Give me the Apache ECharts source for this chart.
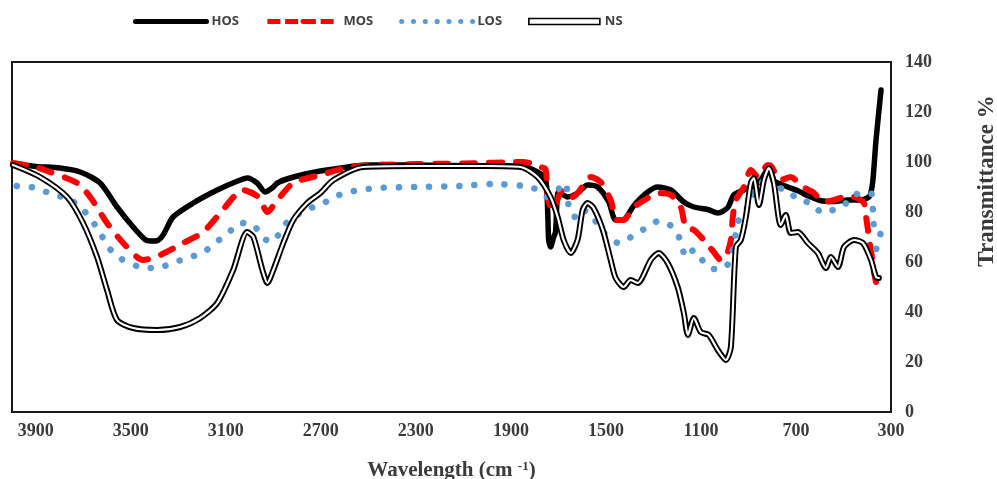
<!DOCTYPE html>
<html>
<head>
<meta charset="utf-8">
<script src="https://cdn.jsdelivr.net/npm/echarts@6/dist/echarts.min.js"></script>
<style>
html,body{margin:0;padding:0;background:#fff;}
#c{width:997px;height:479px;}
</style>
</head>
<body>
<div id="c"></div>
<script>
// ---- data (wavenumber cm-1, transmittance %) ----
const xTicks = [3900, 3500, 3100, 2700, 2300, 1900, 1500, 1100, 700, 300];

const hosWn = [3996,3900,3798,3713,3629,3558,3490,3440,3418,3390,3364,3322,3237,3136,3050,3010,2968,2935,2905,2883,2829,2744,2660,2504,2300,2000,1859,1788,1754,1745,1741,1733,1720,1712,1699,1661,1619,1577,1535,1488,1459,1425,1383,1324,1282,1227,1172,1130,1071,1029,987,962,919,877,848,814,793,776,734,692,650,595,540,481,427,393,384,376,363,342];
const hosT  = [99.4,98.2,97.6,96,91.6,82,74,69,68.4,68.5,70.8,78,83.6,88.8,92.4,93.6,91.6,88,89.6,91.6,93.6,95.6,97,98.8,98.8,98.4,98.4,96,93,80,68.8,66,70,72,88,86,87.6,90.8,90,84,76.8,77,82.5,88,90,88.8,84,82,81,79.6,81.8,86.8,88.8,90.5,92.8,97.6,92.5,91.6,90,88.5,86.5,84.5,84.2,84.8,84.8,86,88,92.8,108.8,128.8];

const mosWn = [3996,3900,3840,3726,3671,3600,3532,3448,3376,3279,3195,3123,3027,2963,2925,2883,2816,2702,2576,2400,2100,1850,1817,1775,1754,1745,1733,1724,1691,1678,1640,1615,1564,1522,1480,1455,1425,1387,1324,1282,1227,1185,1164,1130,1088,1046,1016,995,974,966,953,919,890,860,818,806,764,722,671,629,582,540,498,456,414,405,397,393,384,376,363];
const mosT  = [99.6,98,96,91.6,86,75.6,67.6,60.8,62.8,67.6,72,79.6,88.8,86,80,84.8,91.6,94.8,98,99,99.4,100,99.5,98,97,86,82,80.8,88,88.8,86,88,94,92,84.8,76.8,76.8,81.6,85.6,87.6,86.8,82,74,72.8,68.8,64,60.8,62,68.8,78,84.8,90,96.8,94,98.8,98.5,92.8,94,90,88,84,84.8,86,86,83.6,78,72.8,68.8,64.8,58,52];

const losWn = [3980,3895,3827,3768,3713,3671,3629,3595,3553,3515,3461,3389,3326,3263,3199,3145,3090,3039,2984,2942,2904,2879,2841,2786,2732,2660,2605,2533,2462,2300,2112,1973,1847,1783,1745,1712,1670,1661,1648,1627,1606,1564,1513,1446,1387,1332,1278,1219,1185,1164,1130,1088,1046,995,966,941,903,869,806,785,734,692,637,587,544,502,456,405,384,376,372,342,351,363,355];
const losT  = [90.4,89.6,86.8,85.6,82,77.6,71.6,66,62,60,58,57.6,59.6,61.6,63.6,67.6,71.6,75.6,74.8,69.6,68,70.8,76,79.6,82,84.8,87.6,88.8,89.6,90,90.4,91.2,90.4,88.8,86,88,91.6,84.8,79,78,81,79,72,67.6,70.4,73.6,76.4,74,68.4,62,64.8,60,57.2,58,65,76.8,82,88.8,94.8,90,88.8,84.8,83.6,79.6,80.8,82.4,86.8,87.6,87.6,80.8,74.8,73.6,67.6,64.8,60.8];

const nsWn = [3996,3882,3768,3701,3642,3600,3558,3490,3389,3292,3208,3136,3069,3010,2984,2946,2925,2900,2858,2816,2757,2702,2647,2521,2300,2000,1859,1788,1733,1703,1678,1648,1619,1598,1577,1552,1513,1480,1459,1425,1396,1366,1311,1278,1240,1198,1172,1155,1130,1101,1067,1029,995,974,953,932,911,890,877,856,835,814,793,764,743,722,692,650,608,574,553,523,498,456,418,384,363,351];
const nsT  = [98.8,94,86,75.6,62,48.8,36.8,33.6,32.8,34,37.6,43.6,56.8,72,70,56.8,51.6,56.8,67.6,76.8,83.6,87.6,92.8,98,98.4,98.4,98,94,86,78,68.8,63.6,69,80.8,83.6,81.6,72.8,60.8,53.6,50,52.8,51.6,60.8,63.6,59.6,50,39.6,30.8,37.6,32,30.8,24.8,20.8,26,66,68.8,78,91.6,93.6,82.8,92.8,97.6,91.6,74.8,78.8,71.6,72,67.6,63.6,57.6,62,58,66,68.8,67.6,60.8,54,53.6];

function pairs(xs, ys) { return xs.map((x, i) => [x, ys[i]]); }

const serifFont = "'Liberation Serif', 'DejaVu Serif', serif";
const labelColor = '#3b3b3b';

const chart = echarts.init(document.getElementById('c'), null, {renderer: 'canvas'});
chart.setOption({
  animation: false,
  backgroundColor: '#fff',
  grid: {
    left: 12, right: 106, top: 62, bottom: 67,
    containLabel: false, outerBoundsMode: 'none',
    show: true, borderColor: '#1a1a1a', borderWidth: 2, backgroundColor: 'transparent'
  },
  legend: {
    left: 133, top: 15, padding: 0,
    itemWidth: 71, itemHeight: 6, itemGap: 26,
    selectedMode: false,
    textStyle: {fontFamily: "'Noto Sans', sans-serif", fontWeight: 'bold', fontSize: 13, color: '#404040'},
    data: [
      {name: 'HOS', lineStyle: {width: 5}},
      {name: 'MOS', lineStyle: {width: 5, type: [13, 4.75], cap: 'butt'}},
      {name: 'LOS', lineStyle: {width: 5, type: [0.1, 11.73], cap: 'round'}},
      {name: 'NS', icon: 'rect', itemStyle: {color: '#fff', borderColor: '#000', borderWidth: 1.6}}
    ]
  },
  xAxis: {
    type: 'value', min: 300, max: 4000, inverse: true,
    name: '{a|Wavelength (cm }{b|-1}{a|)}',
    nameLocation: 'middle', nameGap: 48,
    nameTextStyle: {
      rich: {
        a: {fontFamily: serifFont, fontWeight: 'bold', fontSize: 21, color: labelColor},
        b: {fontFamily: serifFont, fontWeight: 'bold', fontSize: 13, color: labelColor, verticalAlign: 'top', padding: [0, 0, 8, 0]}
      }
    },
    axisLine: {show: false},
    axisTick: {show: false},
    splitLine: {show: false},
    axisLabel: {
      customValues: xTicks,
      formatter: v => String(v),
      margin: 10,
      fontFamily: serifFont, fontWeight: 'bold', fontSize: 18, color: labelColor
    }
  },
  yAxis: {
    type: 'value', position: 'right', min: 0, max: 140, interval: 20,
    name: 'Transmittance %',
    nameLocation: 'middle', nameRotate: 90, nameGap: 85,
    nameTextStyle: {fontFamily: serifFont, fontWeight: 'bold', fontSize: 23, color: labelColor, padding: [0, 0, 0, 112]},
    axisLine: {show: false},
    axisTick: {show: false},
    splitLine: {show: false},
    axisLabel: {margin: 14, formatter: v => String(v), fontFamily: serifFont, fontWeight: 'bold', fontSize: 18, color: labelColor}
  },
  series: [
    {
      name: 'HOS', type: 'line', data: pairs(hosWn, hosT), showSymbol: false, symbol: 'none', smooth: 0.25,
      itemStyle: {color: '#000'},
      lineStyle: {color: '#000', width: 5.5, cap: 'round', join: 'round'}
    },
    {
      name: 'MOS', type: 'line', data: pairs(mosWn, mosT), showSymbol: false, symbol: 'none', smooth: 0.25,
      itemStyle: {color: '#ff0000'},
      lineStyle: {color: '#ff0000', width: 6, type: [13, 14], cap: 'round', join: 'round'}
    },
    {
      name: 'LOS', type: 'line', data: pairs(losWn, losT), showSymbol: false, symbol: 'none', smooth: 0.25,
      itemStyle: {color: '#5b9bd5'},
      lineStyle: {color: '#5b9bd5', width: 6.5, type: [0.1, 15], cap: 'round', join: 'round'}
    },
    {
      name: 'NS', type: 'line', data: pairs(nsWn, nsT), showSymbol: false, symbol: 'none', smooth: 0.25,
      itemStyle: {color: '#000'},
      lineStyle: {color: '#000', width: 6, cap: 'round', join: 'round'}
    },
    {
      name: 'NS', type: 'line', data: pairs(nsWn, nsT), showSymbol: false, symbol: 'none', smooth: 0.25,
      itemStyle: {color: '#fff'},
      lineStyle: {color: '#fff', width: 2.2, cap: 'round', join: 'round'}
    }
  ]
});
</script>
</body>
</html>
